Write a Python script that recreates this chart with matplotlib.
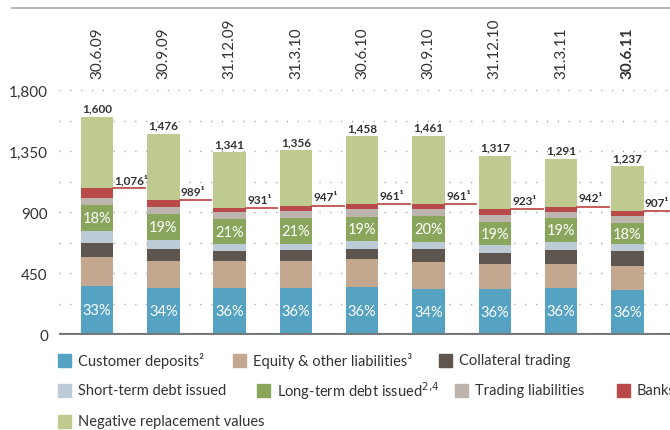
"""
Balance sheet funding structure, stacked bars (CHF bn)
"""
import matplotlib
matplotlib.use("Agg")
import matplotlib.pyplot as plt
from matplotlib.patches import Rectangle
import numpy as np

plt.rcParams['font.family'] = ['Lato', 'DejaVu Sans']

# Data
dates = ["30.6.09", "30.9.09", "31.12.09", "31.3.10", "30.6.10",
         "30.9.10", "31.12.10", "31.3.11", "30.6.11"]
customer_deposits = [358, 342, 341, 341, 350, 335, 333, 340, 328]
equity_other = [213, 198, 198, 198, 206, 199, 184, 176, 176]
collateral_trading = [102, 89, 73, 81, 73, 95, 81, 103, 110]
short_term_debt = [89, 66, 52, 44, 59, 52, 59, 59, 52]
long_term_debt = [190, 191, 184, 191, 177, 192, 169, 176, 153]
trading_liabilities = [51, 49, 51, 56, 59, 51, 51, 51, 51]
banks = [73, 54, 32, 36, 37, 37, 46, 37, 37]
balance_excl_nrv = [1076, 989, 931, 947, 961, 961, 923, 942, 907]
totals = [1600, 1476, 1341, 1356, 1458, 1461, 1317, 1291, 1237]
customer_pct = ["33%", "34%", "36%", "36%", "36%", "34%", "36%", "36%", "36%"]
ltd_pct = ["18%", "19%", "21%", "21%", "19%", "20%", "19%", "19%", "18%"]
nrv = [t - b for t, b in zip(totals, balance_excl_nrv)]

series = [
    ("Customer deposits²", customer_deposits, "#55a2c2"),
    ("Equity & other liabilities³", equity_other, "#c4a78f"),
    ("Collateral trading", collateral_trading, "#5e554f"),
    ("Short-term debt issued", short_term_debt, "#bccbd6"),
    ("Long-term debt issued$^{2{,}4}$", long_term_debt, "#8aa65d"),
    ("Trading liabilities", trading_liabilities, "#bdb4ad"),
    ("Banks", banks, "#b84a4a"),
    ("Negative replacement values", nrv, "#bfca90"),
]

W, H = 670, 431
fig = plt.figure(figsize=(W / 100, H / 100), dpi=100)
ax = fig.add_axes([59 / W, (H - 335.5) / H, (W - 59) / W, (335.5 - 91) / H])

x = np.arange(len(dates))
bw = 0.49
bottom = np.zeros(len(dates))
for name, vals, col in series:
    ax.bar(x, vals, bw, bottom=bottom, color=col, linewidth=0, zorder=2)
    bottom += np.array(vals)

ax.set_xlim(-0.573, 8.643)
ax.set_ylim(0, 1800)

# dotted grid
for yv in np.arange(225, 1801, 225):
    ax.axhline(yv, color="#9a9a9a", lw=1.0, ls=(0, (0.8, 7)), zorder=1)
ax.axhline(0, color="#77787b", lw=3, zorder=3, solid_capstyle="butt")

ax.set_yticks([0, 450, 900, 1350, 1800])
ax.set_yticklabels(["0", "450", "900", "1,350", "1,800"], fontsize=11, color="#333333")
ax.tick_params(axis="y", length=0, pad=8)
ax.set_xticks([])
for s in ax.spines.values():
    s.set_visible(False)
ax.patch.set_alpha(0)

# labels
for i in x:
    ax.text(i, totals[i] + 25, f"{totals[i]:,}", ha="center", va="bottom",
            fontsize=8.5, fontweight="bold", color="#333333")
    ax.text(i, customer_deposits[i] / 2, customer_pct[i], ha="center", va="center",
            fontsize=10.5, color="white")
    ltd_base = customer_deposits[i] + equity_other[i] + collateral_trading[i] + short_term_debt[i]
    ax.text(i, ltd_base + long_term_debt[i] / 2, ltd_pct[i], ha="center", va="center",
            fontsize=10.5, color="white")
    ax.plot([i + bw / 2, i + 0.72], [balance_excl_nrv[i]] * 2, color="#c0504d",
            lw=1.3, zorder=3, clip_on=False)
    ax.text(i + bw / 2 + 0.02, balance_excl_nrv[i] + 25, f"{balance_excl_nrv[i]:,}¹",
            ha="left", va="bottom", fontsize=8.5, fontweight="bold", color="#333333")
    ax.text(i, 1888, dates[i], rotation=90, ha="center", va="bottom", fontsize=11,
            color="#333333", fontweight="bold" if i == len(dates) - 1 else "normal",
            clip_on=False)

# top rule
fig.add_artist(plt.Line2D([12 / W, 1], [1 - 9 / H] * 2, color="#a8a8a8", lw=1.2))

# legend
legend_pos = [(58, 361), (233, 361), (439, 361),
              (58, 391), (257, 391), (455, 391), (617, 391),
              (58, 422)]
for (name, vals, col), (px, py) in zip(series, legend_pos):
    fig.add_artist(Rectangle((px / W, (H - py - 6.5) / H), 13 / W, 13 / H,
                             color=col, transform=fig.transFigure))
    fig.text((px + 20) / W, (H - py) / H, name, ha="left", va="center",
             fontsize=10.5, color="#333333")

plt.savefig("out.png", dpi=100)
